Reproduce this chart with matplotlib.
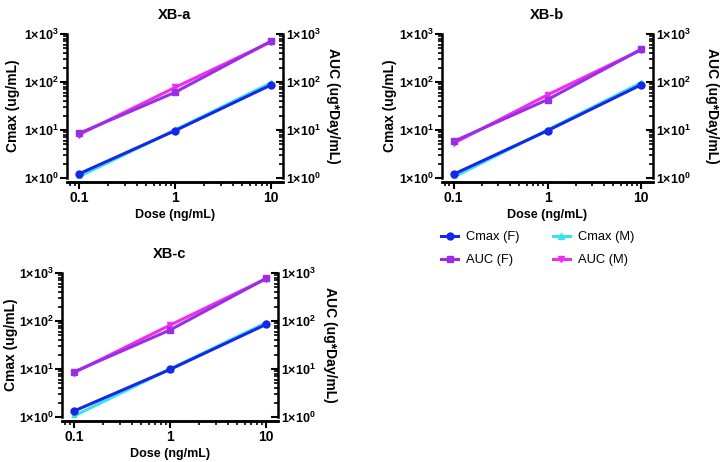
import matplotlib
matplotlib.use("Agg")
import matplotlib.pyplot as plt
from matplotlib.ticker import FixedLocator, LogLocator, NullFormatter

plt.rcParams['font.family'] = ['Liberation Sans', 'DejaVu Sans']
plt.rcParams['mathtext.fontset'] = 'custom'
plt.rcParams['mathtext.rm'] = 'Liberation Sans:bold'
plt.rcParams['mathtext.bf'] = 'Liberation Sans:bold'

# data
dose = [0.1, 1, 10]
panels = ["XB-a", "XB-b", "XB-c"]
cmax_f = {"XB-a": [1.22, 9.7, 87], "XB-b": [1.2, 9.7, 88], "XB-c": [1.33, 9.8, 85]}
cmax_m = {"XB-a": [1.07, 10, 96], "XB-b": [1.05, 10, 97], "XB-c": [1.05, 10, 92]}
auc_f = {"XB-a": [8.5, 61, 710], "XB-b": [5.8, 43, 480], "XB-c": [8.7, 65, 770]}
auc_m = {"XB-a": [8.0, 77, 690], "XB-b": [5.3, 54, 470], "XB-c": [8.4, 82, 760]}

yticks = [1, 10, 100, 1000]
ytick_labels = [r"$1{\times}10^{%d}$" % k for k in range(4)]

c_cf = "#1428e6"
c_cm = "#38e2ee"
c_af = "#9a2ee6"
c_am = "#f02cf0"

fig = plt.figure(figsize=(7.26, 4.62), dpi=100)

# axes boxes (left, bottom, width, height) in figure fraction
boxes = {
    "XB-a": [0.0923, 0.6147, 0.2975, 0.3117],
    "XB-b": [0.6088, 0.6147, 0.2906, 0.3117],
    "XB-c": [0.0854, 0.0974, 0.2975, 0.3117],
}
# y-label x positions in axes fraction (left, right)
ylab_x = {"XB-a": (-0.25, 1.23), "XB-b": (-0.245, 1.28), "XB-c": (-0.235, 1.24)}

handles = []
for p in panels:
    ax = fig.add_axes(boxes[p])
    ax2 = ax.twinx()
    for a in (ax, ax2):
        a.set_xscale('log')
        a.set_yscale('log')
        a.set_xlim(0.075, 13.3)
        a.set_ylim(1, 1000)
        a.spines['top'].set_visible(False)
        for s in ('left', 'right', 'bottom'):
            a.spines[s].set_linewidth(1.8)
        a.spines['bottom'].set_position(('outward', 3))
        a.yaxis.set_major_locator(FixedLocator(yticks))
        a.yaxis.set_minor_locator(LogLocator(base=10, subs=range(2, 10)))
        a.yaxis.set_minor_formatter(NullFormatter())
        a.set_yticklabels(ytick_labels)
        a.tick_params(which='major', length=5, width=1.5, labelsize=9, pad=1)
        a.tick_params(which='minor', length=3, width=1.2)
    ax.spines['right'].set_visible(False)
    ax2.spines['left'].set_visible(False)
    ax2.tick_params(axis='y', which='both', direction='in', pad=2)

    ax.set_xticks(dose)
    ax.set_xticklabels(["0.1", "1", "10"], fontweight='bold', fontsize=10)
    ax.xaxis.set_minor_locator(LogLocator(base=10, subs=range(2, 10)))
    ax.xaxis.set_minor_formatter(NullFormatter())
    ax.tick_params(axis='x', which='major', pad=1)

    h1, = ax.plot(dose, cmax_m[p], color=c_cm, lw=2.2, marker='^', ms=5, zorder=2)
    h0, = ax.plot(dose, cmax_f[p], color=c_cf, lw=2.2, marker='o', ms=5, zorder=3)
    h3, = ax2.plot(dose, auc_m[p], color=c_am, lw=2.2, marker='v', ms=5, zorder=2)
    h2, = ax2.plot(dose, auc_f[p], color=c_af, lw=2.2, marker='s', ms=5, zorder=3)
    handles = [h0, h2, h1, h3]

    ax.set_title(p, fontsize=10.5, fontweight='bold', pad=11)
    ax.set_xlabel("Dose (ng/mL)", fontsize=9, fontweight='bold', labelpad=3)
    ax.set_ylabel("Cmax (ug/mL)", fontsize=10, fontweight='bold',
                  va='center', rotation_mode='anchor')
    ax.yaxis.set_label_coords(ylab_x[p][0], 0.5)
    ax2.set_ylabel("AUC (ug*Day/mL)", fontsize=10, fontweight='bold',
                   rotation=-90, va='center', rotation_mode='anchor')
    ax2.yaxis.set_label_coords(ylab_x[p][1], 0.5)

fig.legend(handles, ["Cmax (F)", "AUC (F)", "Cmax (M)", "AUC (M)"],
           ncol=2, loc='upper left', bbox_to_anchor=(0.592, 0.525),
           frameon=False, fontsize=9.3, handlelength=1.3, handletextpad=0.6,
           columnspacing=2.6, labelspacing=0.85)

fig.savefig("out.png", dpi=100)
